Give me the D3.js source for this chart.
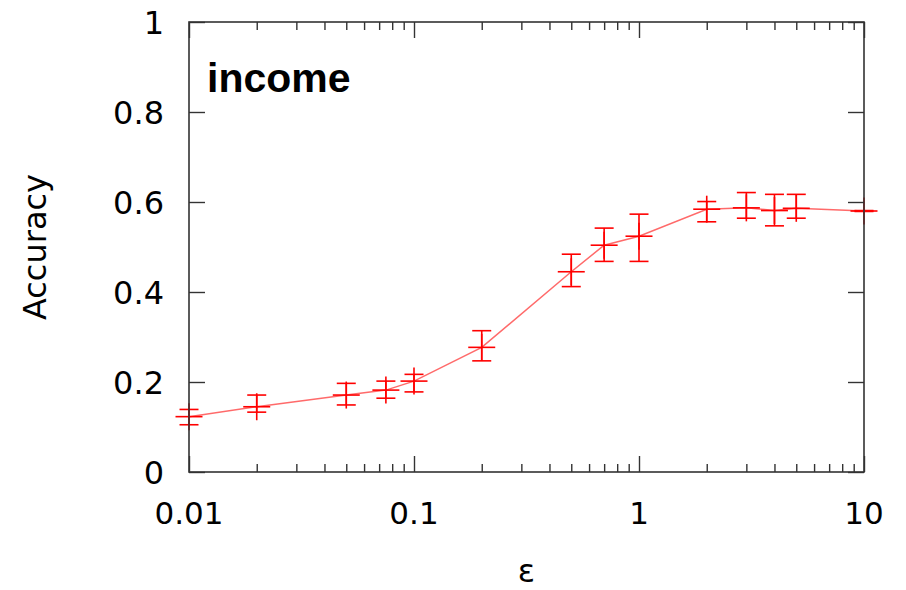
<!DOCTYPE html>
<html>
<head>
<meta charset="utf-8">
<script src="https://cdn.jsdelivr.net/npm/d3@7"></script>
<style>
  body { margin: 0; background: #fff; }
  svg { display: block; }
  .tick-label { font-family: "DejaVu Sans", sans-serif; font-size: 31px; fill: #000; }
  .ytick-label { font-family: "DejaVu Sans", sans-serif; font-size: 32px; fill: #000; }
  .axis-title { font-family: "DejaVu Sans", sans-serif; font-size: 32px; fill: #000; }
</style>
</head>
<body>
<svg id="chart" width="906" height="590"></svg>
<script>
const width = 906;
const height = 590;

// ---- data ----
const epsilon  = [0.01, 0.02, 0.05, 0.075, 0.1, 0.2, 0.5, 0.7, 1, 2, 3, 4, 5, 10];
const accuracy = [0.123, 0.145, 0.171, 0.182, 0.202, 0.277, 0.445, 0.504, 0.524, 0.584, 0.587, 0.581, 0.586, 0.58];
const accLow   = [0.105, 0.133, 0.149, 0.164, 0.178, 0.247, 0.412, 0.468, 0.468, 0.556, 0.564, 0.547, 0.564, 0.579];
const accHigh  = [0.139, 0.171, 0.197, 0.202, 0.217, 0.314, 0.484, 0.542, 0.573, 0.601, 0.621, 0.617, 0.617, 0.581];
const xTicks = [0.01, 0.1, 1, 10];
const xTickLabels = ["0.01", "0.1", "1", "10"];
const yTicks = [0, 0.2, 0.4, 0.6, 0.8, 1];
const yTickLabels = ["0", "0.2", "0.4", "0.6", "0.8", "1"];

const margin = {left: 189, right: width - 864, top: 22, bottom: height - 472};

const x = d3.scaleLog().domain([0.01, 10]).range([margin.left, width - margin.right]);
const y = d3.scaleLinear().domain([0, 1]).range([height - margin.bottom, margin.top]);

const svg = d3.select("#chart");
const points = epsilon.map((e, i) => ({e, v: accuracy[i], lo: accLow[i], hi: accHigh[i]}));

//------------ connecting line ------------------------------------------//
svg.append("path")
    .datum(points)
    .attr("fill", "none")
    .attr("stroke", "#ff3838")
    .attr("stroke-opacity", 0.75)
    .attr("stroke-width", 1.5)
    .attr("d", d3.line().x(d => x(d.e)).y(d => y(d.v)));

//------------ error bars + point markers -------------------------------//
const capHalf = 9.5;
const plusHalf = 13.5;
const marks = svg.append("g")
    .attr("stroke", "#ff0000")
    .attr("stroke-width", 1.6)
    .selectAll("g")
    .data(points)
    .join("g");

marks.append("line")
    .attr("x1", d => x(d.e)).attr("x2", d => x(d.e))
    .attr("y1", d => y(d.lo)).attr("y2", d => y(d.hi));
marks.append("line")
    .attr("x1", d => x(d.e) - capHalf).attr("x2", d => x(d.e) + capHalf)
    .attr("y1", d => y(d.lo)).attr("y2", d => y(d.lo));
marks.append("line")
    .attr("x1", d => x(d.e) - capHalf).attr("x2", d => x(d.e) + capHalf)
    .attr("y1", d => y(d.hi)).attr("y2", d => y(d.hi));
// "+" marker
marks.append("line")
    .attr("x1", d => x(d.e) - plusHalf).attr("x2", d => x(d.e) + plusHalf)
    .attr("y1", d => y(d.v)).attr("y2", d => y(d.v));
marks.append("line")
    .attr("x1", d => x(d.e)).attr("x2", d => x(d.e))
    .attr("y1", d => y(d.v) - plusHalf).attr("y2", d => y(d.v) + plusHalf);

//------------ axes (gnuplot-style mirrored border) ---------------------//
const axisColor = "#333";
function styleAxis(g) {
    g.select(".domain").remove();
    g.selectAll(".tick line").attr("stroke", axisColor).attr("stroke-width", 1.4);
    g.selectAll("text").remove();
}

const minorX = [];
for (let dec of [0.01, 0.1, 1]) for (let k = 2; k <= 9; k++) minorX.push(dec * k);

const majorLen = 16, minorLen = 8;
const x0 = margin.left, x1 = width - margin.right;
const y0 = height - margin.bottom, y1 = margin.top;

svg.append("g").attr("transform", `translate(0,${y0})`)
    .call(d3.axisTop(x).tickValues(xTicks).tickSize(majorLen)).call(styleAxis);
svg.append("g").attr("transform", `translate(0,${y0})`)
    .call(d3.axisTop(x).tickValues(minorX).tickSize(minorLen)).call(styleAxis);
svg.append("g").attr("transform", `translate(0,${y1})`)
    .call(d3.axisBottom(x).tickValues(xTicks).tickSize(majorLen)).call(styleAxis);
svg.append("g").attr("transform", `translate(0,${y1})`)
    .call(d3.axisBottom(x).tickValues(minorX).tickSize(minorLen)).call(styleAxis);
svg.append("g").attr("transform", `translate(${x0},0)`)
    .call(d3.axisRight(y).tickValues(yTicks).tickSize(majorLen)).call(styleAxis);
svg.append("g").attr("transform", `translate(${x1},0)`)
    .call(d3.axisLeft(y).tickValues(yTicks).tickSize(majorLen)).call(styleAxis);

svg.append("rect")
    .attr("x", x0).attr("y", y1)
    .attr("width", x1 - x0).attr("height", y0 - y1)
    .attr("fill", "none")
    .attr("stroke", axisColor)
    .attr("stroke-width", 1.6);

//------------ tick labels ----------------------------------------------//
svg.append("g").selectAll("text")
    .data(xTicks)
    .join("text")
    .attr("class", "tick-label")
    .attr("x", d => x(d))
    .attr("y", y0 + 52)
    .attr("text-anchor", "middle")
    .text((d, i) => xTickLabels[i]);

svg.append("g").selectAll("text")
    .data(yTicks)
    .join("text")
    .attr("class", "ytick-label")
    .attr("x", x0 - 25)
    .attr("y", d => y(d))
    .attr("dy", "0.36em")
    .attr("text-anchor", "end")
    .text((d, i) => yTickLabels[i]);

//------------ titles ---------------------------------------------------//
svg.append("text")
    .attr("class", "axis-title")
    .attr("x", (x0 + x1) / 2)
    .attr("y", 582)
    .attr("text-anchor", "middle")
    .text("ε");

svg.append("text")
    .attr("class", "axis-title")
    .attr("transform", `translate(46,${(y0 + y1) / 2}) rotate(-90)`)
    .attr("text-anchor", "middle")
    .text("Accuracy");

svg.append("text")
    .attr("x", 207)
    .attr("y", 92)
    .attr("font-family", "'Liberation Sans', Arial, sans-serif")
    .attr("font-weight", "bold")
    .attr("font-size", 41)
    .text("income");
</script>
</body>
</html>
